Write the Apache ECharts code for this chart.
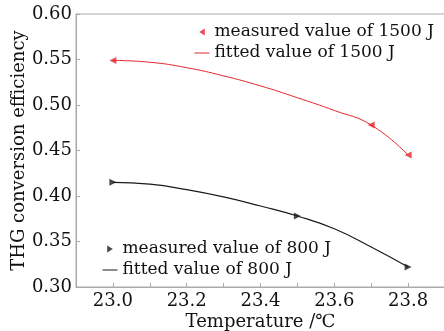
<!DOCTYPE html>
<html>
<head>
<meta charset="utf-8">
<script src="https://cdn.jsdelivr.net/npm/echarts@6/dist/echarts.min.js"></script>
<style>
  html, body { margin: 0; padding: 0; background: #fff; }
  #chart { width: 444px; height: 331px; }
</style>
</head>
<body>
<div id="chart"></div>
<script>
// Measured THG conversion efficiency vs. crystal temperature
const measured1500 = [[23.0, 0.549], [23.7, 0.478], [23.8, 0.445]];
const measured800 = [[23.0, 0.415], [23.5, 0.378], [23.8, 0.322]];

// Fitted curves
const fitted1500 = [[23.0, 0.549], [23.1, 0.547], [23.2, 0.541], [23.3, 0.532], [23.4, 0.521],
                    [23.5, 0.508], [23.6, 0.494], [23.7, 0.478], [23.8, 0.445]];
const fitted800 = [[23.0, 0.415], [23.1, 0.413], [23.2, 0.407], [23.3, 0.399], [23.4, 0.389],
                   [23.5, 0.378], [23.6, 0.364], [23.7, 0.344], [23.8, 0.322]];

const names = {
  m1500: 'measured value of 1500 J',
  f1500: 'fitted value of 1500 J',
  m800: 'measured value of 800 J',
  f800: 'fitted value of 800 J'
};

const FONT = 'DejaVu Serif';
const axisColor = '#aaaaaa';
const red = '#e3262b';
const black = '#1a1a1a';

// legend glyphs: small triangles pointing left / right, and a plain line
const triLeft = 'path://M0,5 L8,0 L8,10 Z';
const triRight = 'path://M8,5 L0,0 L0,10 Z';
const hidden = { opacity: 0 };
const thin = { width: 1 };

const chart = echarts.init(document.getElementById('chart'), null, { renderer: 'canvas' });

const legendText = { fontFamily: FONT, fontSize: 17, color: '#111', lineHeight: 18 };

chart.setOption({
  animation: false,
  backgroundColor: '#ffffff',
  textStyle: { fontFamily: FONT },
  grid: {
    left: 76, right: -1, top: 14, bottom: 44,
    outerBoundsMode: 'none',
    containLabel: false,
    show: true, borderColor: axisColor, borderWidth: 1
  },
  xAxis: {
    type: 'value',
    min: 22.9, max: 23.9, interval: 0.1,
    name: 'Temperature /℃',
    nameLocation: 'middle',
    nameGap: 26,
    nameMoveOverlap: false,
    nameTextStyle: { fontFamily: FONT, fontSize: 18, color: '#111' },
    axisLine: { show: true, lineStyle: { color: axisColor } },
    axisTick: { show: true, inside: true, length: 4, lineStyle: { color: axisColor } },
    splitLine: { show: false },
    axisLabel: {
      fontFamily: FONT, fontSize: 18, color: '#111', margin: 5,
      showMinLabel: true, showMaxLabel: true,
      formatter: v => (Math.round(v * 10) % 2 === 0 ? v.toFixed(1) : '')
    }
  },
  yAxis: {
    type: 'value',
    min: 0.3, max: 0.6, interval: 0.05,
    name: 'THG conversion efficiency',
    nameLocation: 'middle',
    nameGap: 48,
    nameMoveOverlap: false,
    nameTextStyle: { fontFamily: FONT, fontSize: 18, color: '#111' },
    axisLine: { show: true, lineStyle: { color: axisColor } },
    axisTick: { show: true, inside: true, length: 4, lineStyle: { color: axisColor } },
    splitLine: { show: false },
    axisLabel: {
      fontFamily: FONT, fontSize: 18, color: '#111', margin: 4,
      formatter: v => v.toFixed(2)
    }
  },
  legend: [
    {
      data: [
        { name: names.m1500, icon: triLeft },
        { name: names.f1500, itemStyle: hidden, lineStyle: thin }
      ],
      orient: 'vertical',
      left: 194, top: 23, padding: 0,
      itemWidth: 15, itemHeight: 7, itemGap: 3,
      symbolKeepAspect: true,
      textStyle: legendText
    },
    {
      data: [
        { name: names.m800, icon: triRight },
        { name: names.f800, itemStyle: hidden, lineStyle: thin }
      ],
      orient: 'vertical',
      left: 102, top: 240, padding: 0,
      itemWidth: 15, itemHeight: 7, itemGap: 3,
      symbolKeepAspect: true,
      textStyle: legendText
    }
  ],
  series: [
    {
      name: names.f1500,
      type: 'line',
      data: fitted1500,
      smooth: 0.5,
      symbol: 'none',
      lineStyle: { color: red, width: 1 },
      itemStyle: { color: red },
      z: 2
    },
    {
      name: names.m1500,
      type: 'scatter',
      data: measured1500,
      symbol: 'triangle',
      symbolRotate: 90,
      symbolSize: 7,
      itemStyle: { color: red },
      z: 3
    },
    {
      name: names.f800,
      type: 'line',
      data: fitted800,
      smooth: 0.5,
      symbol: 'none',
      lineStyle: { color: black, width: 1.2 },
      itemStyle: { color: black },
      z: 2
    },
    {
      name: names.m800,
      type: 'scatter',
      data: measured800,
      symbol: 'triangle',
      symbolRotate: -90,
      symbolSize: 7,
      itemStyle: { color: black },
      z: 3
    }
  ]
});
</script>
</body>
</html>
